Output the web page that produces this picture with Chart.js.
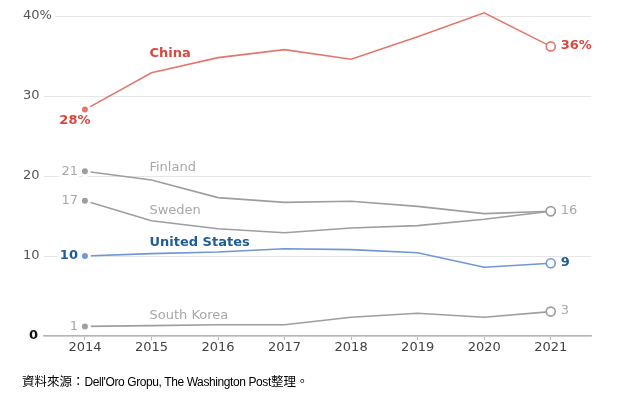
<!DOCTYPE html>
<html>
<head>
<meta charset="utf-8">
<script src="https://cdn.jsdelivr.net/npm/chart.js@4/dist/chart.umd.min.js"></script>
<style>
  body { margin: 0; background: #fff; }
  #wrap { position: relative; width: 625px; height: 396px; }
  #source {
    position: absolute; left: 22px; top: 373px;
    font: 12.5px/16px "Noto Sans CJK TC", sans-serif; color: #000;
  }
  #source span { font-family: "Liberation Sans", sans-serif; font-size: 12px; letter-spacing: -0.4px; }
</style>
</head>
<body>
<div id="wrap">
  <canvas id="chart"></canvas>
  <div id="source">資料來源：<span>Dell'Oro Gropu, The Washington Post</span>整理。</div>
</div>
<script>
// données (part de marché, %)
const years = [2014, 2015, 2016, 2017, 2018, 2019, 2020, 2021];
const china = [28.3, 32.9, 34.8, 35.8, 34.6, 37.4, 40.4, 36.2];
const finland = [20.6, 19.5, 17.3, 16.7, 16.85, 16.2, 15.3, 15.6];
const sweden = [16.9, 14.4, 13.4, 12.9, 13.5, 13.8, 14.6, 15.6];
const unitedStates = [10.0, 10.3, 10.5, 10.9, 10.8, 10.4, 8.6, 9.1];
const southKorea = [1.2, 1.3, 1.4, 1.4, 2.35, 2.85, 2.35, 3.05];
const yTicks = [0, 10, 20, 30, 40];

const FONT = '"DejaVu Sans", sans-serif';

// style de chaque série
const series = [
  { name: 'China', data: china, line: '#e3776c', text: '#d9473f', bold: true, nameDy: -19, startBelow: true, suffix: '%' },
  { name: 'Finland', data: finland, line: '#9e9e9e', text: '#a8a8a8', nameDy: -12, noEnd: true },
  { name: 'Sweden', data: sweden, line: '#9e9e9e', text: '#a8a8a8', nameDy: -10 },
  { name: 'United States', data: unitedStates, line: '#7096d4', text: '#1f5b99', bold: true, nameDy: -11 },
  { name: 'South Korea', data: southKorea, line: '#9e9e9e', text: '#a8a8a8', nameDy: -10 }
];

const lastIdx = years.length - 1;

const datasets = series.map(s => ({
  label: s.name,
  data: s.data.map((v, i) => ({ x: years[i], y: v })),
  borderColor: s.line,
  borderWidth: 1.6,
  tension: 0,
  clip: false,
  pointRadius: c => c.dataIndex === 0 ? 4.5 : (c.dataIndex === lastIdx ? 4.5 : 0),
  pointBackgroundColor: c => c.dataIndex === 0 ? s.line : '#fff',
  pointBorderColor: c => c.dataIndex === 0 ? '#fff' : s.line,
  pointBorderWidth: c => c.dataIndex === 0 ? 3 : 1.6
}));

// étiquettes des séries + graduations de l'axe Y
const labelPlugin = {
  id: 'seriesLabels',
  beforeDatasetsDraw(chart) {
    const { ctx, scales: { y } } = chart;
    ctx.save();
    ctx.textBaseline = 'middle';
    ctx.textAlign = 'left';
    yTicks.forEach(v => {
      const py = y.getPixelForValue(v);
      const txt = v === 40 ? '40%' : String(v);
      if (v === 0) {
        ctx.font = 'bold 13px ' + FONT;
        ctx.fillStyle = '#111';
        ctx.fillText(txt, 29, py);
        return;
      }
      ctx.font = '13px ' + FONT;
      const w = ctx.measureText(txt).width;
      ctx.fillStyle = '#fff';
      ctx.fillRect(20, py - 8, w + 6, 16);
      ctx.fillStyle = '#555';
      ctx.fillText(txt, 23, py);
    });
    ctx.restore();
  },
  afterDatasetsDraw(chart) {
    const { ctx, scales: { x, y } } = chart;
    ctx.save();
    ctx.textBaseline = 'middle';

    series.forEach(s => {
      const weight = s.bold ? 'bold ' : '';
      ctx.font = weight + '13px ' + FONT;
      ctx.fillStyle = s.text;

      // nom de la série
      ctx.textAlign = 'left';
      ctx.fillText(s.name, x.getPixelForValue(years[1]) - 2, y.getPixelForValue(s.data[1]) + s.nameDy);

      // valeur de départ
      const x0 = x.getPixelForValue(years[0]);
      const y0 = y.getPixelForValue(s.data[0]);
      const startTxt = Math.round(s.data[0]) + (s.suffix || '');
      if (s.startBelow) {
        ctx.textAlign = 'center';
        ctx.fillText(startTxt, x0 - 10, y0 + 11);
      } else {
        const w = ctx.measureText(startTxt).width;
        ctx.fillStyle = '#fff';
        ctx.fillRect(x0 - 9 - w, y0 - 8, w + 3, 16);
        ctx.fillStyle = s.text;
        ctx.textAlign = 'right';
        ctx.fillText(startTxt, x0 - 7, y0);
      }

      // valeur finale
      if (!s.noEnd) {
        const x1 = x.getPixelForValue(years[lastIdx]);
        const y1 = y.getPixelForValue(s.data[lastIdx]);
        ctx.textAlign = 'left';
        ctx.fillText(Math.round(s.data[lastIdx]) + (s.suffix || ''), x1 + 10, y1 - 1);
      }
    });
    ctx.restore();
  }
};

new Chart(document.getElementById('chart'), {
  type: 'line',
  data: { datasets: datasets },
  options: {
    responsive: true,
    maintainAspectRatio: false,
    animation: false,
    layout: { padding: { left: 44, right: 34, top: 16, bottom: 36 } },
    plugins: { legend: { display: false }, tooltip: { enabled: false } },
    scales: {
      x: {
        type: 'linear',
        min: years[0] - 0.615,
        max: years[lastIdx] + 0.605,
        afterBuildTicks: scale => { scale.ticks = years.map(v => ({ value: v })); },
        afterFit: scale => { scale.height = 24; },
        grid: { drawOnChartArea: false, drawTicks: true, tickLength: 4, color: '#bbb' },
        border: { color: '#b5b5b5', width: 1.5 },
        ticks: {
          padding: 0,
          color: '#444',
          font: { family: FONT, size: 13 },
          callback: v => String(v)
        }
      },
      y: {
        min: 0,
        max: 40,
        afterBuildTicks: scale => { scale.ticks = yTicks.map(v => ({ value: v })); },
        afterFit: scale => { scale.width = 0; },
        ticks: { display: false },
        grid: { color: '#e6e6e6', drawTicks: false, lineWidth: 1 },
        border: { display: false }
      }
    }
  },
  plugins: [labelPlugin]
});
</script>
</body>
</html>
